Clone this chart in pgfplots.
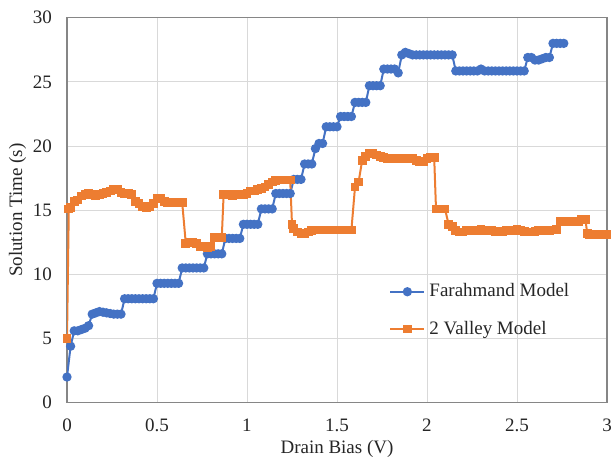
\documentclass[border=0pt]{standalone}
\usepackage{fontspec}
\setmainfont{Liberation Serif}
\usepackage{pgfplots}
\pgfplotsset{compat=1.18}

\definecolor{exblue}{HTML}{4472C4}
\definecolor{exorange}{HTML}{ED7D31}
\definecolor{gridgray}{HTML}{D9D9D9}
\definecolor{axgray}{HTML}{868686}

\begin{document}
\begin{tikzpicture}
\begin{axis}[
    scale only axis,
    width=270pt,
    height=192.5pt,
    xmin=0, xmax=3,
    ymin=0, ymax=30,
    xtick={0,0.5,1,1.5,2,2.5,3},
    ytick={0,5,10,15,20,25,30},
    xmajorgrids, ymajorgrids,
    grid style={gridgray, line width=0.5pt},
    axis line style={axgray, line width=0.7pt},
    tick style={draw=none},
    /pgf/number format/assume math mode=true,
    ticklabel style={font=\fontsize{9.5}{10.5}\selectfont, black!85},
    xticklabel style={yshift=-4.5pt},
    yticklabel style={xshift=-4pt},
    xlabel={Drain Bias (V)},
    ylabel={Solution Time (s)},
    label style={font=\fontsize{9.5}{11}\selectfont, black!85},
    xlabel style={yshift=2.5pt},
    ylabel style={yshift=-3.5pt},
    legend style={at={(0.585,0.331)}, anchor=north west, draw=none, fill=none,
        font=\fontsize{9.5}{11}\selectfont, row sep=6.5pt,
        nodes={text=black!85}},
    legend cell align=left,
]
\addplot[exblue, line width=1pt, mark=*, mark size=1.8pt, mark options={fill=exblue, draw=exblue}]
coordinates {
(0,2.0) (0.02,4.4) (0.04,5.6) (0.06,5.6) (0.08,5.7) (0.10,5.8) (0.12,6.0)
(0.14,6.9) (0.16,7.0) (0.18,7.1) (0.20,7.05) (0.22,7.0) (0.24,6.95) (0.26,6.9) (0.28,6.9) (0.30,6.9)
(0.32,8.1) (0.34,8.1) (0.36,8.1) (0.38,8.1) (0.40,8.1) (0.42,8.1) (0.44,8.1) (0.46,8.1) (0.48,8.1)
(0.50,9.3) (0.52,9.3) (0.54,9.3) (0.56,9.3) (0.58,9.3) (0.60,9.3) (0.62,9.3)
(0.64,10.5) (0.66,10.5) (0.68,10.5) (0.70,10.5) (0.72,10.5) (0.74,10.5) (0.76,10.5)
(0.78,11.6) (0.80,11.6) (0.82,11.6) (0.84,11.6) (0.86,11.6)
(0.88,12.8) (0.90,12.8) (0.92,12.8) (0.94,12.8) (0.96,12.8)
(0.98,13.9) (1.00,13.9) (1.02,13.9) (1.04,13.9) (1.06,13.9)
(1.08,15.1) (1.10,15.1) (1.12,15.1) (1.14,15.1)
(1.16,16.3) (1.18,16.3) (1.20,16.3) (1.22,16.3) (1.24,16.3)
(1.26,17.4) (1.28,17.4) (1.30,17.4)
(1.32,18.6) (1.34,18.6) (1.36,18.6)
(1.38,19.8) (1.40,20.2) (1.42,20.2)
(1.44,21.5) (1.46,21.5) (1.48,21.5) (1.50,21.5)
(1.52,22.3) (1.54,22.3) (1.56,22.3) (1.58,22.3)
(1.60,23.4) (1.62,23.4) (1.64,23.4) (1.66,23.4)
(1.68,24.7) (1.70,24.7) (1.72,24.7) (1.74,24.7)
(1.76,26.0) (1.78,26.0) (1.80,26.0) (1.82,26.0) (1.84,25.7)
(1.86,27.1) (1.88,27.3) (1.90,27.2) (1.92,27.1) (1.94,27.1) (1.96,27.1) (1.98,27.1)
(2.00,27.1) (2.02,27.1) (2.04,27.1) (2.06,27.1) (2.08,27.1) (2.10,27.1) (2.12,27.1) (2.14,27.1)
(2.16,25.85) (2.18,25.85) (2.20,25.85) (2.22,25.85) (2.24,25.85) (2.26,25.85) (2.28,25.85)
(2.30,26.0) (2.32,25.85) (2.34,25.85) (2.36,25.85) (2.38,25.85) (2.40,25.85) (2.42,25.85)
(2.44,25.85) (2.46,25.85) (2.48,25.85) (2.50,25.85) (2.52,25.85) (2.54,25.85)
(2.56,26.9) (2.58,26.9) (2.60,26.7) (2.62,26.7) (2.64,26.8) (2.66,26.9) (2.68,26.9)
(2.70,28.0) (2.72,28.0) (2.74,28.0) (2.76,28.0)
};
\addlegendentry{Farahmand Model}
\addplot[exorange, line width=1pt, mark=square*, mark size=1.7pt, mark options={fill=exorange, draw=exorange}]
coordinates {
(0,5.0) (0.01,15.1) (0.02,15.2) (0.04,15.7) (0.06,15.8) (0.08,16.1) (0.10,16.2) (0.12,16.3)
(0.14,16.2) (0.16,16.1) (0.18,16.2) (0.20,16.3) (0.22,16.4) (0.24,16.5) (0.26,16.6) (0.28,16.6)
(0.30,16.4) (0.32,16.3) (0.34,16.3) (0.36,16.2) (0.38,15.7) (0.40,15.5) (0.42,15.3) (0.44,15.2)
(0.46,15.3) (0.48,15.5) (0.50,15.9) (0.52,15.9) (0.54,15.7) (0.56,15.6) (0.58,15.6) (0.60,15.6)
(0.62,15.6) (0.64,15.6)
(0.66,12.4) (0.68,12.5) (0.70,12.5) (0.72,12.4) (0.74,12.2) (0.76,12.2) (0.78,12.1) (0.80,12.2)
(0.82,12.9) (0.84,12.9) (0.86,12.9)
(0.87,16.2) (0.88,16.2) (0.90,16.2) (0.92,16.1) (0.94,16.2) (0.96,16.2) (0.98,16.2)
(1.00,16.3) (1.02,16.5) (1.04,16.5) (1.06,16.6) (1.08,16.7) (1.10,16.8) (1.12,17.0) (1.14,17.2)
(1.16,17.3) (1.18,17.35) (1.20,17.35) (1.22,17.35) (1.24,17.35)
(1.25,13.9) (1.26,13.6) (1.28,13.3) (1.30,13.2) (1.32,13.2) (1.34,13.3) (1.36,13.4)
(1.38,13.45) (1.40,13.45) (1.42,13.45) (1.44,13.45) (1.46,13.45) (1.48,13.45) (1.50,13.45)
(1.52,13.45) (1.54,13.45) (1.56,13.45) (1.58,13.45)
(1.60,16.8) (1.62,17.2) (1.64,18.9) (1.66,19.2) (1.68,19.4) (1.70,19.4) (1.72,19.3) (1.74,19.2)
(1.76,19.1) (1.78,19.0) (1.80,19.0) (1.82,19.0) (1.84,19.0) (1.86,19.0) (1.88,19.0) (1.90,19.0)
(1.92,19.0) (1.94,18.9) (1.96,18.8) (1.98,18.8) (2.00,19.0) (2.02,19.1) (2.04,19.1)
(2.05,15.1) (2.06,15.1) (2.08,15.1) (2.10,15.1)
(2.12,13.9) (2.14,13.7) (2.16,13.4) (2.18,13.3) (2.20,13.3) (2.22,13.4) (2.24,13.4) (2.26,13.4)
(2.28,13.4) (2.30,13.5) (2.32,13.4) (2.34,13.4) (2.36,13.4) (2.38,13.35) (2.40,13.35) (2.42,13.35)
(2.44,13.4) (2.46,13.4) (2.48,13.4) (2.50,13.5) (2.52,13.4) (2.54,13.35) (2.56,13.3) (2.58,13.3)
(2.60,13.35) (2.62,13.4) (2.64,13.4) (2.66,13.4) (2.68,13.4) (2.70,13.45) (2.72,13.5)
(2.74,14.1) (2.76,14.1) (2.78,14.1) (2.80,14.1) (2.82,14.1) (2.84,14.1) (2.86,14.3) (2.88,14.3)
(2.89,13.2) (2.90,13.1) (2.92,13.1) (2.94,13.1) (2.96,13.1) (2.98,13.1) (3.00,13.1)
};
\addlegendentry{2 Valley Model}
\end{axis}
\pgfresetboundingbox
\useasboundingbox ([xshift=-33.5pt,yshift=-28.15pt]current axis.south west)
    rectangle ([xshift=272pt,yshift=201.35pt]current axis.south west);
\end{tikzpicture}
\end{document}
